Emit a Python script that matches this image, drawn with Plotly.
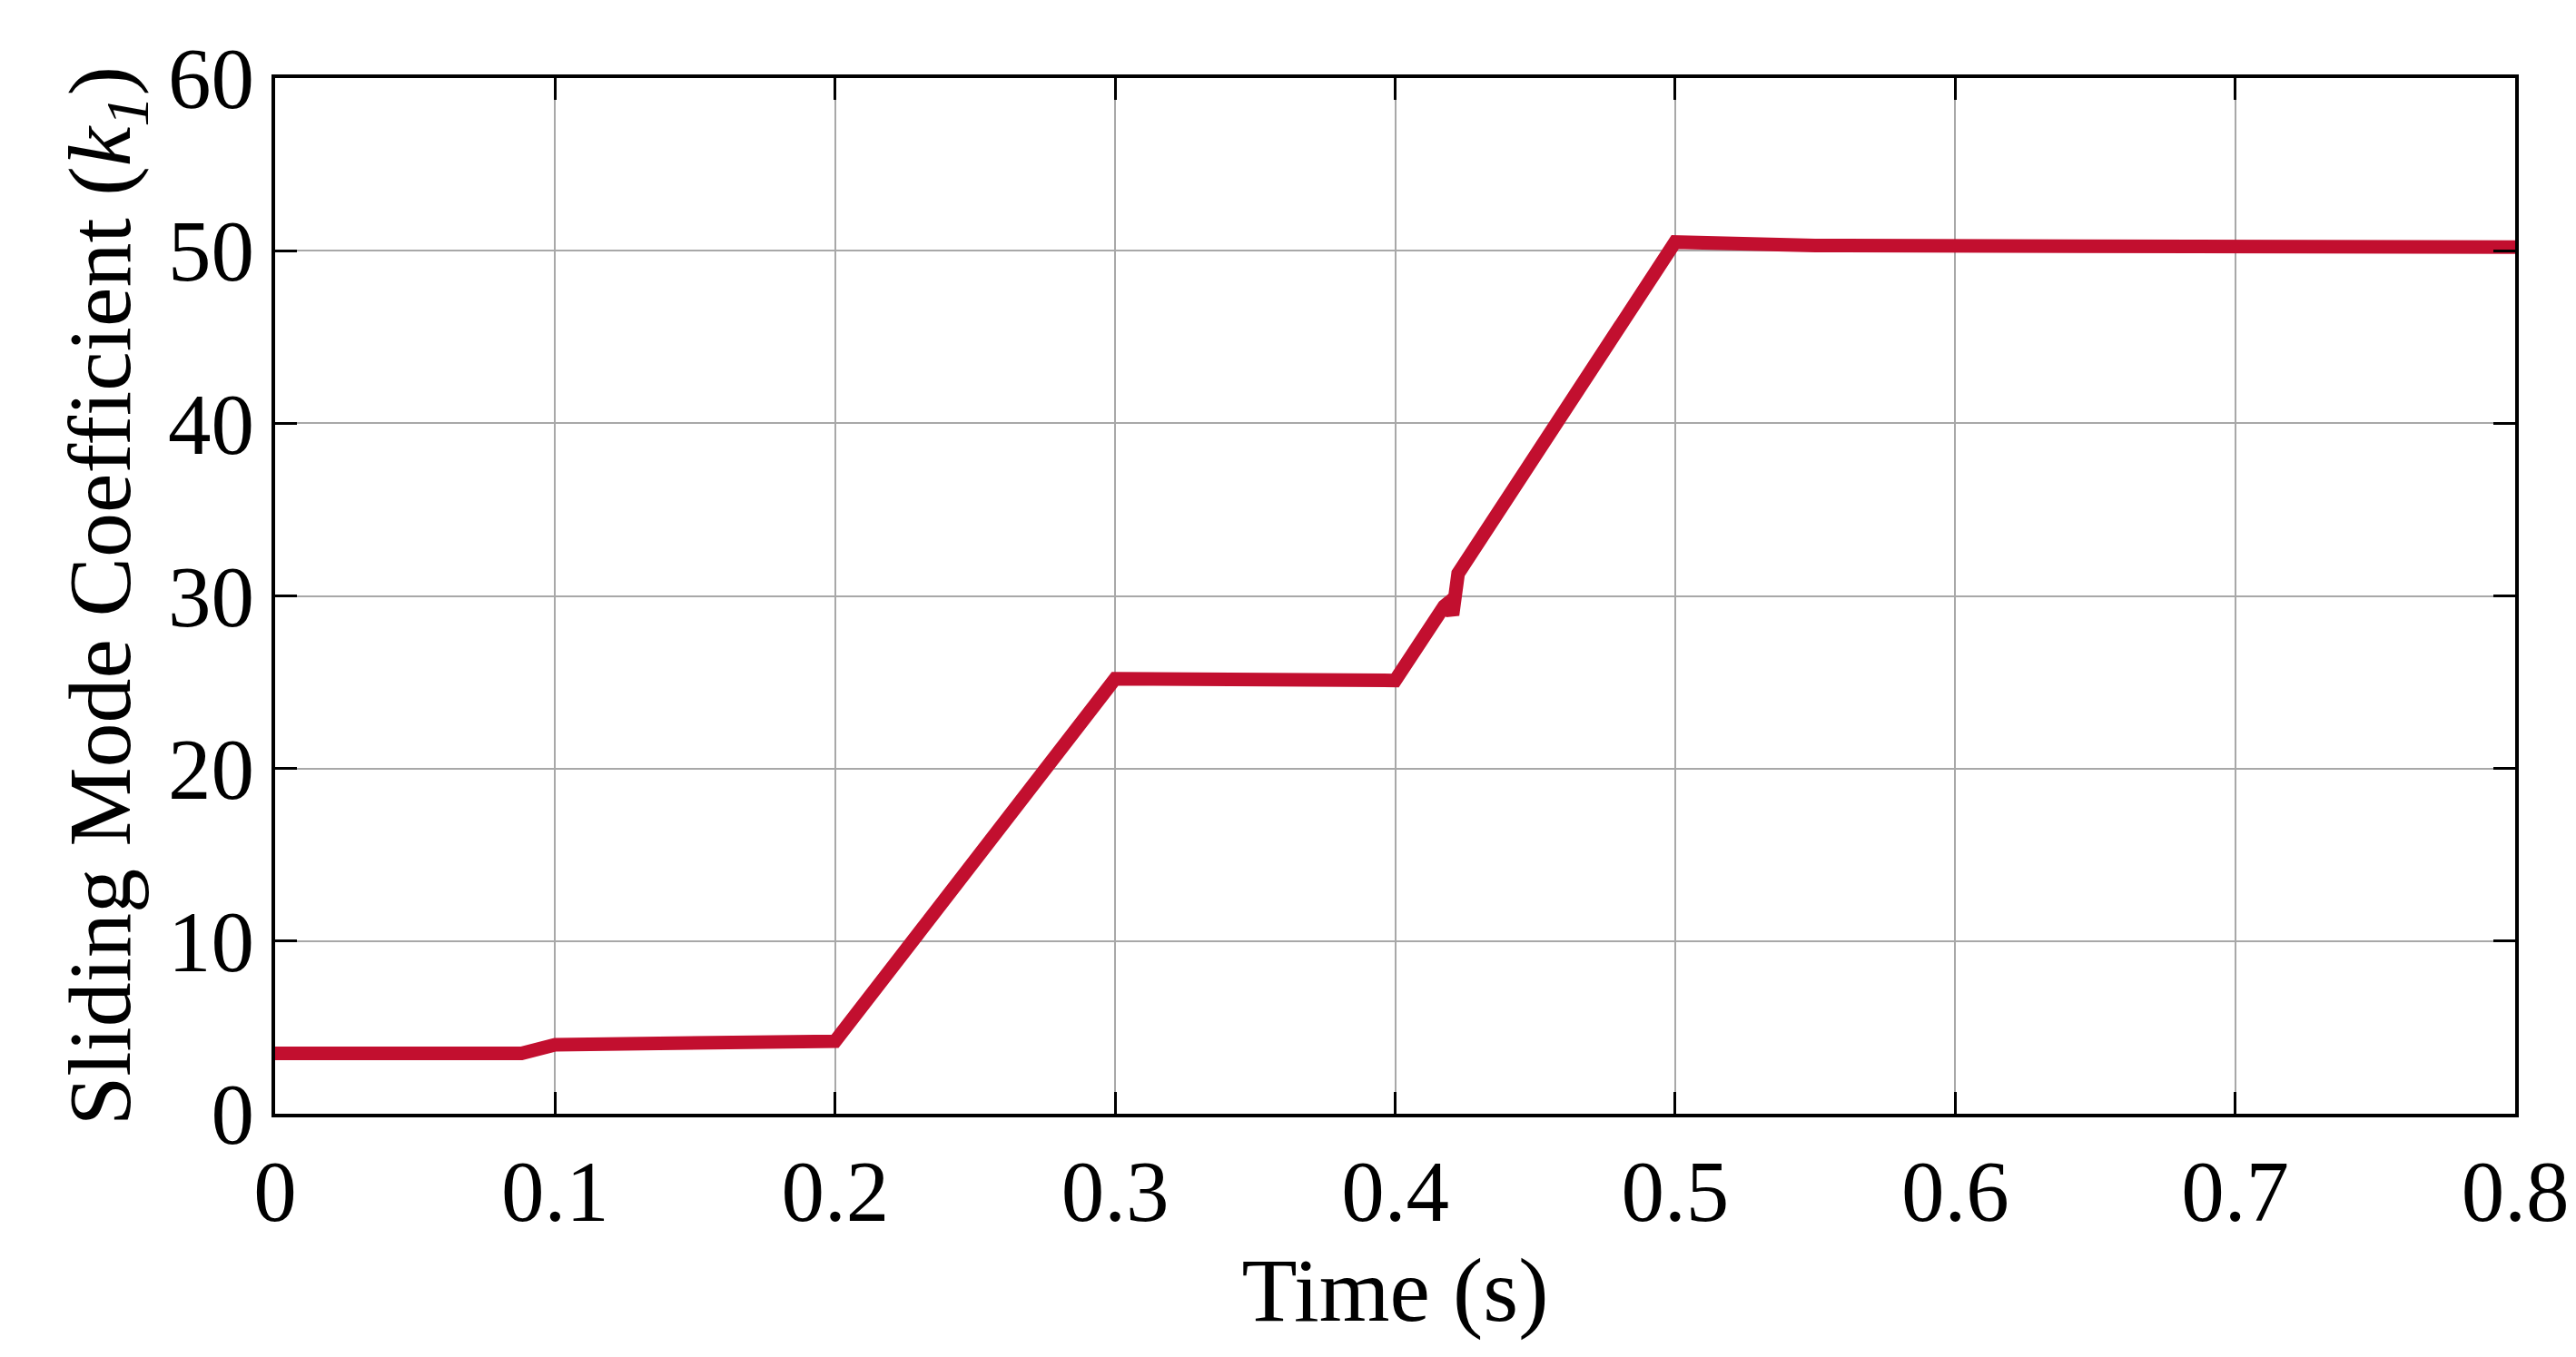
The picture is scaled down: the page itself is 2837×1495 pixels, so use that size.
import plotly.graph_objects as go

time_s = [0.0, 0.088, 0.1, 0.2, 0.3, 0.4, 0.4175, 0.419, 0.4205, 0.4215, 0.4225, 0.5, 0.55, 0.8]
k1 = [3.5, 3.5, 4.0, 4.2, 25.2, 25.1, 29.4, 29.6, 28.9, 31.0, 31.3, 50.5, 50.3, 50.2]
x_ticks = [0, 0.1, 0.2, 0.3, 0.4, 0.5, 0.6, 0.7, 0.8]
y_ticks = [0, 10, 20, 30, 40, 50, 60]

fig = go.Figure(go.Scatter(x=time_s, y=k1, mode="lines",
                           line=dict(color="#C20F2F", width=15), showlegend=False))
font = dict(family="Liberation Serif", size=95, color="black")
ax = dict(showline=True, linecolor="black", linewidth=4, mirror="allticks",
          ticks="inside", ticklen=24, tickwidth=3, tickcolor="black",
          showgrid=True, gridcolor="#A8A8A8", gridwidth=2, zeroline=False,
          tickfont=font)
fig.update_xaxes(range=[0, 0.8], tickvals=x_ticks, ticktext=[str(v) for v in x_ticks],
                 title=dict(text="Time (s)", font=dict(family="Liberation Serif", size=100, color="black"), standoff=5), **ax)
fig.update_yaxes(range=[0, 60], tickvals=y_ticks,
                 title=dict(text="Sliding Mode Coefficient (<i>k<sub>1</sub></i>)",
                            font=dict(family="Liberation Serif", size=98, color="black"), standoff=10), **ax)
fig.update_layout(width=2837, height=1495, plot_bgcolor="white", paper_bgcolor="white",
                  margin=dict(l=295, r=75, t=78, b=276), font=font)
fig.write_html("out.html")
